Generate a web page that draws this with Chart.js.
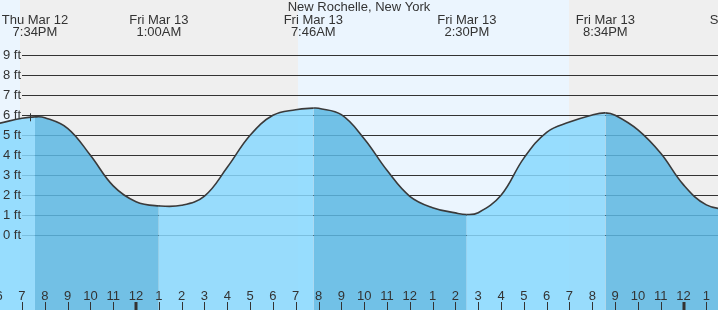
<!DOCTYPE html>
<html>
<head>
<meta charset="utf-8">
<script src="https://cdn.jsdelivr.net/npm/chart.js@4.4.0/dist/chart.umd.min.js"></script>
<style>
html, body { margin: 0; padding: 0; background: #fff; }
canvas { display: block; }
</style>
</head>
<body>
<canvas id="tideChart" width="718" height="310"></canvas>
<script>
// hours are counted from Thu Mar 12 00:00
const TITLE = 'New Rochelle, New York';

const hours  = [18, 19, 19.57, 20, 21, 22, 23, 24, 25, 26, 27, 28, 29, 30, 31, 31.77, 32, 33, 34, 35, 36, 37, 38, 38.5, 39, 40, 41, 42, 43, 44, 44.57, 45, 46, 47, 48, 49, 50, 50.54];
const levels = [5.6, 5.85, 5.92, 5.88, 5.35, 4.0, 2.47, 1.68, 1.47, 1.5, 1.96, 3.4, 5.0, 6.0, 6.28, 6.36, 6.35, 6.03, 4.83, 3.25, 1.95, 1.38, 1.12, 1.04, 1.13, 2.0, 3.86, 5.15, 5.66, 6.02, 6.12, 6.0, 5.27, 4.1, 2.52, 1.52, 1.28, 1.25];

// high / low tide labels along the top
const tideHours = [19.57, 25, 31.77, 38.5, 44.57, 50.54];
const tideDates = ['Thu Mar 12', 'Fri Mar 13', 'Fri Mar 13', 'Fri Mar 13', 'Fri Mar 13', 'Sat Mar 14'];
const tideTimes = ['7:34PM', '1:00AM', '7:46AM', '2:30PM', '8:34PM', '2:32AM'];

// daylight periods (sunrise, sunset)
const dayStart = [7.2, 31.09];
const dayEnd   = [18.93, 42.98];

const feetValues = [0, 1, 2, 3, 4, 5, 6, 7, 8, 9];
const feetLabels = ['0 ft', '1 ft', '2 ft', '3 ft', '4 ft', '5 ft', '6 ft', '7 ft', '8 ft', '9 ft'];

const tickHours  = [18, 19, 20, 21, 22, 23, 24, 25, 26, 27, 28, 29, 30, 31, 32, 33, 34, 35, 36, 37, 38, 39, 40, 41, 42, 43, 44, 45, 46, 47, 48, 49];
const tickLabels = ['6', '7', '8', '9', '10', '11', '12', '1', '2', '3', '4', '5', '6', '7', '8', '9', '10', '11', '12', '1', '2', '3', '4', '5', '6', '7', '8', '9', '10', '11', '12', '1'];
const midnights  = [24, 48];

const nowHour = 19.36;
const nowLevel = 5.9;

const FONT = '13px "Liberation Sans", Arial, sans-serif';
const TEXT = '#333';
const LIGHT = 'rgba(136, 216, 254, 0.85)';
const DARK = 'rgba(92, 183, 227, 0.85)';

const backdrop = {
    id: 'backdrop',
    beforeDraw(chart) {
        const { ctx, width, height } = chart;
        const xs = chart.scales.x;
        ctx.save();
        ctx.fillStyle = '#efefef';
        ctx.fillRect(0, 0, width, height);
        ctx.fillStyle = '#ebf5fe';
        dayStart.forEach((s, i) => {
            const x0 = Math.round(xs.getPixelForValue(s));
            const x1 = Math.round(xs.getPixelForValue(dayEnd[i]));
            ctx.fillRect(x0, 0, x1 - x0, height);
        });
        ctx.restore();
    },
    beforeDatasetsDraw(chart) {
        const { ctx, width } = chart;
        const ys = chart.scales.y;
        ctx.save();
        ctx.strokeStyle = '#333';
        ctx.lineWidth = 1;
        feetValues.forEach(v => {
            const y = Math.round(ys.getPixelForValue(v)) + 0.5;
            ctx.beginPath();
            ctx.moveTo(22, y);
            ctx.lineTo(width, y);
            ctx.stroke();
        });
        ctx.restore();
    },
    afterDatasetsDraw(chart) {
        const { ctx, width, height } = chart;
        const xs = chart.scales.x;
        const ys = chart.scales.y;
        ctx.save();
        ctx.font = FONT;
        ctx.fillStyle = TEXT;

        // y labels
        ctx.textAlign = 'left';
        ctx.textBaseline = 'middle';
        feetLabels.forEach((t, i) => {
            ctx.fillText(t, 3, ys.getPixelForValue(feetValues[i]));
        });

        // hour labels and ticks
        ctx.textAlign = 'center';
        ctx.textBaseline = 'alphabetic';
        ctx.strokeStyle = '#333';
        tickHours.forEach((h, i) => {
            const x = xs.getPixelForValue(h);
            ctx.fillText(tickLabels[i], x, 300);
            const thick = midnights.includes(h);
            ctx.lineWidth = thick ? 3 : 1;
            const px = thick ? Math.round(x) : Math.round(x) + 0.5;
            ctx.beginPath();
            ctx.moveTo(px, 302);
            ctx.lineTo(px, height);
            ctx.stroke();
        });

        // now marker
        const nx = Math.round(xs.getPixelForValue(nowHour)) + 0.5;
        const ny = ys.getPixelForValue(nowLevel);
        ctx.lineWidth = 1;
        ctx.beginPath();
        ctx.moveTo(nx, ny - 4);
        ctx.lineTo(nx, ny + 4);
        ctx.stroke();

        // tide times along top
        tideHours.forEach((h, i) => {
            const x = xs.getPixelForValue(h);
            ctx.fillText(tideDates[i], x, 24);
            ctx.fillText(tideTimes[i], x, 36);
        });

        // title
        ctx.fillText(TITLE, width / 2, 11);
        ctx.restore();
    }
};

new Chart(document.getElementById('tideChart'), {
    type: 'line',
    data: {
        datasets: [{
            data: hours.map((h, i) => ({ x: h, y: levels[i] })),
            borderColor: '#3a3a3a',
            borderWidth: 1.6,
            pointRadius: 0,
            tension: 0.4,
            fill: 'start',
            backgroundColor: LIGHT,
            segment: {
                backgroundColor: c => c.p1.parsed.y < c.p0.parsed.y ? DARK : LIGHT
            }
        }]
    },
    options: {
        responsive: false,
        animation: false,
        layout: { padding: 0 },
        plugins: {
            legend: { display: false },
            title: { display: false },
            tooltip: { enabled: false }
        },
        scales: {
            x: { type: 'linear', display: false, min: 18.037, max: 49.51 },
            y: { display: false, min: -3.735, max: 11.765 }
        }
    },
    plugins: [backdrop]
});
</script>
</body>
</html>
